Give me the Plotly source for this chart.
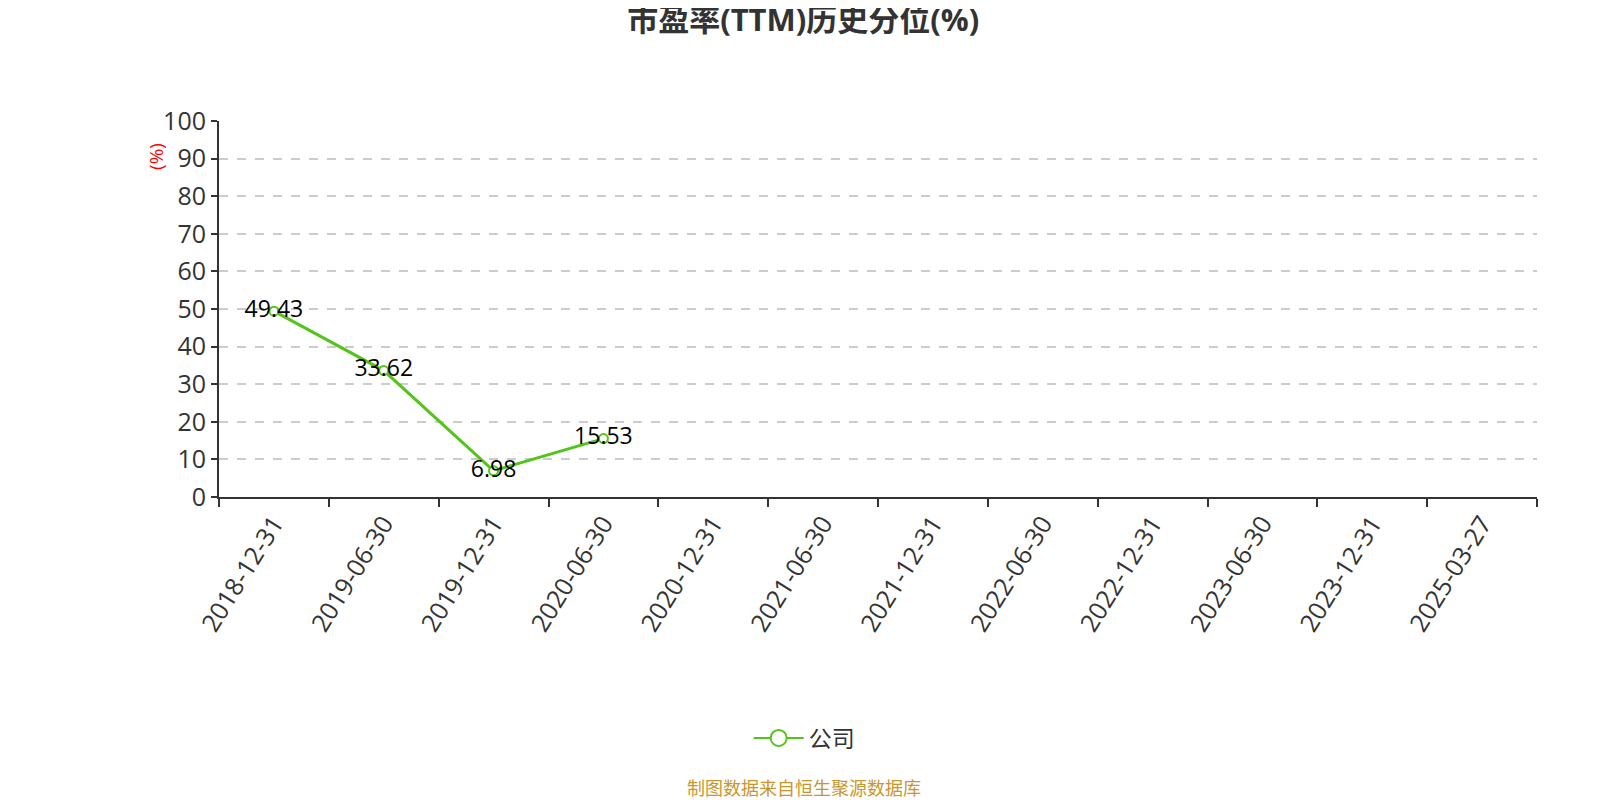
import plotly.graph_objects as go

# 报告期
dates = ["2018-12-31", "2019-06-30", "2019-12-31", "2020-06-30", "2020-12-31",
         "2021-06-30", "2021-12-31", "2022-06-30", "2022-12-31", "2023-06-30",
         "2023-12-31", "2025-03-27"]
# 公司市盈率(TTM)历史分位, 后面几期没有数据
company = [49.43, 33.62, 6.98, 15.53, None, None, None, None, None, None, None, None]

GREEN = "#52c41a"
FONT = "Open Sans, Noto Sans CJK SC, sans-serif"

fig = go.Figure()
fig.add_trace(go.Scatter(
    x=dates, y=company, name="公司", mode="lines+markers+text",
    text=[f"{v:.2f}" if v is not None else "" for v in company],
    textposition="middle center",
    textfont=dict(size=23, color="#000000", family=FONT),
    line=dict(color=GREEN, width=3),
    marker=dict(symbol="circle", size=9, color="#ffffff",
                line=dict(color=GREEN, width=2)),
    connectgaps=False, showlegend=False,
))
# 图例用的样式(大圆圈)
fig.add_trace(go.Scatter(
    x=[None], y=[None], name="公司", mode="lines+markers",
    line=dict(color=GREEN, width=2),
    marker=dict(symbol="circle", size=22, color="#ffffff",
                line=dict(color=GREEN, width=2)),
))

fig.update_layout(
    width=1600, height=800,
    paper_bgcolor="white", plot_bgcolor="white",
    font=dict(family=FONT, color="#333333"),
    margin=dict(l=211, r=71, t=113, b=311, autoexpand=False),
    title=dict(text="<b>市盈率(TTM)历史分位(%)</b>", x=0.497, xanchor="center",
               y=0.999, yanchor="top",
               font=dict(size=31, color="#333333", family=FONT)),
    xaxis=dict(type="category", range=[-0.5, 11.5], tickson="boundaries",
               showline=True, linecolor="#333333", linewidth=2,
               ticks="outside", ticklen=8, tickwidth=2, tickcolor="#333333",
               tickangle=-58, showgrid=False, zeroline=False,
               tickfont=dict(size=25, color="#333333")),
    yaxis=dict(range=[0, 100], dtick=10, showline=True, linecolor="#333333",
               linewidth=2, ticks="outside", ticklen=6, tickwidth=2,
               tickcolor="#333333", showgrid=True, gridcolor="#cccccc",
               griddash="dash", gridwidth=1.5, zeroline=False,
               tickfont=dict(size=25, color="#333333")),
    legend=dict(orientation="h", x=0.444, xanchor="center",
                y=-0.641, yanchor="middle", font=dict(size=23, color="#333333"),
                itemwidth=50),
    showlegend=True,
    annotations=[
        dict(text="(%)", xref="paper", yref="paper", x=-0.0478, y=0.907,
             xanchor="center", yanchor="middle",
             showarrow=False, textangle=-90, font=dict(size=19, color="#ff0000")),
        dict(text="制图数据来自恒生聚源数据库", xref="paper", yref="paper",
             x=0.444, y=-0.773, xanchor="center", yanchor="middle",
             showarrow=False, font=dict(size=18, color="#c8962e")),
    ],
)

fig.write_html("out.html")
